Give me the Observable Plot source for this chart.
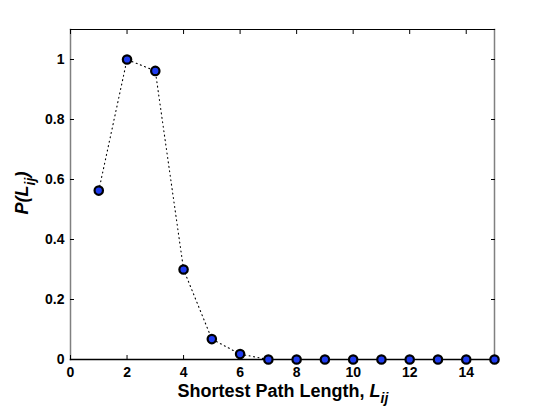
<!DOCTYPE html>
<html><head><meta charset="utf-8">
<script src="https://cdn.jsdelivr.net/npm/d3@7"></script>
<script src="https://cdn.jsdelivr.net/npm/@observablehq/plot@0.6"></script>
<style>body{margin:0;background:#fff}</style>
</head><body><div id="chart"></div>
<script>
const pathLength = [1,2,3,4,5,6,7,8,9,10,11,12,13,14,15];
const probability = [0.563,1.0,0.962,0.30,0.068,0.018,0,0,0,0,0,0,0,0,0];
const xTicks = [0,2,4,6,8,10,12,14];
const yTicks = [0,0.2,0.4,0.6,0.8,1];

const data = pathLength.map((x,i)=>({x, y: probability[i]}));
const font = "Liberation Sans, Arial, sans-serif";

const plot = Plot.plot({
  width: 545, height: 410,
  marginLeft: 70, marginRight: 51, marginTop: 29, marginBottom: 51,
  style: {fontFamily: font, fontSize: "14px", fontWeight: "bold", color: "#000", background: "#fff"},
  x: {domain: [0,15]},
  y: {domain: [0,1.1]},
  marks: [
    Plot.frame({anchor: "left", stroke: "#808080", strokeWidth: 1.5}),
    Plot.frame({anchor: "right", stroke: "#808080", strokeWidth: 1.5}),
    Plot.frame({anchor: "top", stroke: "#000", strokeWidth: 1.2}),
    Plot.axisX(xTicks, {anchor: "bottom", tickSize: -4, tickPadding: 12, label: null, fontSize: 14, tickFormat: d => String(d)}),
    Plot.axisX(xTicks, {anchor: "top", tickSize: -4, tickFormat: () => "", label: null}),
    Plot.axisY(yTicks, {anchor: "left", tickSize: -4, tickPadding: 10, label: null, fontSize: 14, tickFormat: d => String(d)}),
    Plot.axisY(yTicks, {anchor: "right", tickSize: -4, tickFormat: () => "", label: null}),
    Plot.line(data, {x: "x", y: "y", stroke: "#000", strokeWidth: 1.1, strokeDasharray: "1,3.5"}),
    Plot.frame({anchor: "bottom", stroke: "#000", strokeWidth: 1.5}),
    Plot.dot(data, {x: "x", y: "y", r: 4.2, fill: "#1f3cf0", stroke: "#000", strokeWidth: 2.2})
  ]
});
document.getElementById("chart").appendChild(plot);

const svg = d3.select(plot);
const xl = svg.append("text")
  .attr("x", 283).attr("y", 397)
  .attr("text-anchor", "middle")
  .style("font-family", font).style("font-size", "18px").style("font-weight", "bold");
xl.append("tspan").text("Shortest Path Length, ");
xl.append("tspan").style("font-style", "italic").text("L");
xl.append("tspan").style("font-style", "italic").style("font-size", "14px").attr("dy", 6).text("ij");

const yl = svg.append("text")
  .attr("transform", "translate(28,193) rotate(-90)")
  .attr("text-anchor", "middle")
  .style("font-family", font).style("font-size", "18px").style("font-weight", "bold").style("font-style", "italic");
yl.append("tspan").text("P(L");
yl.append("tspan").style("font-size", "14px").attr("dy", 7).text("ij");
yl.append("tspan").attr("dy", -7).text(")");
</script></body></html>
